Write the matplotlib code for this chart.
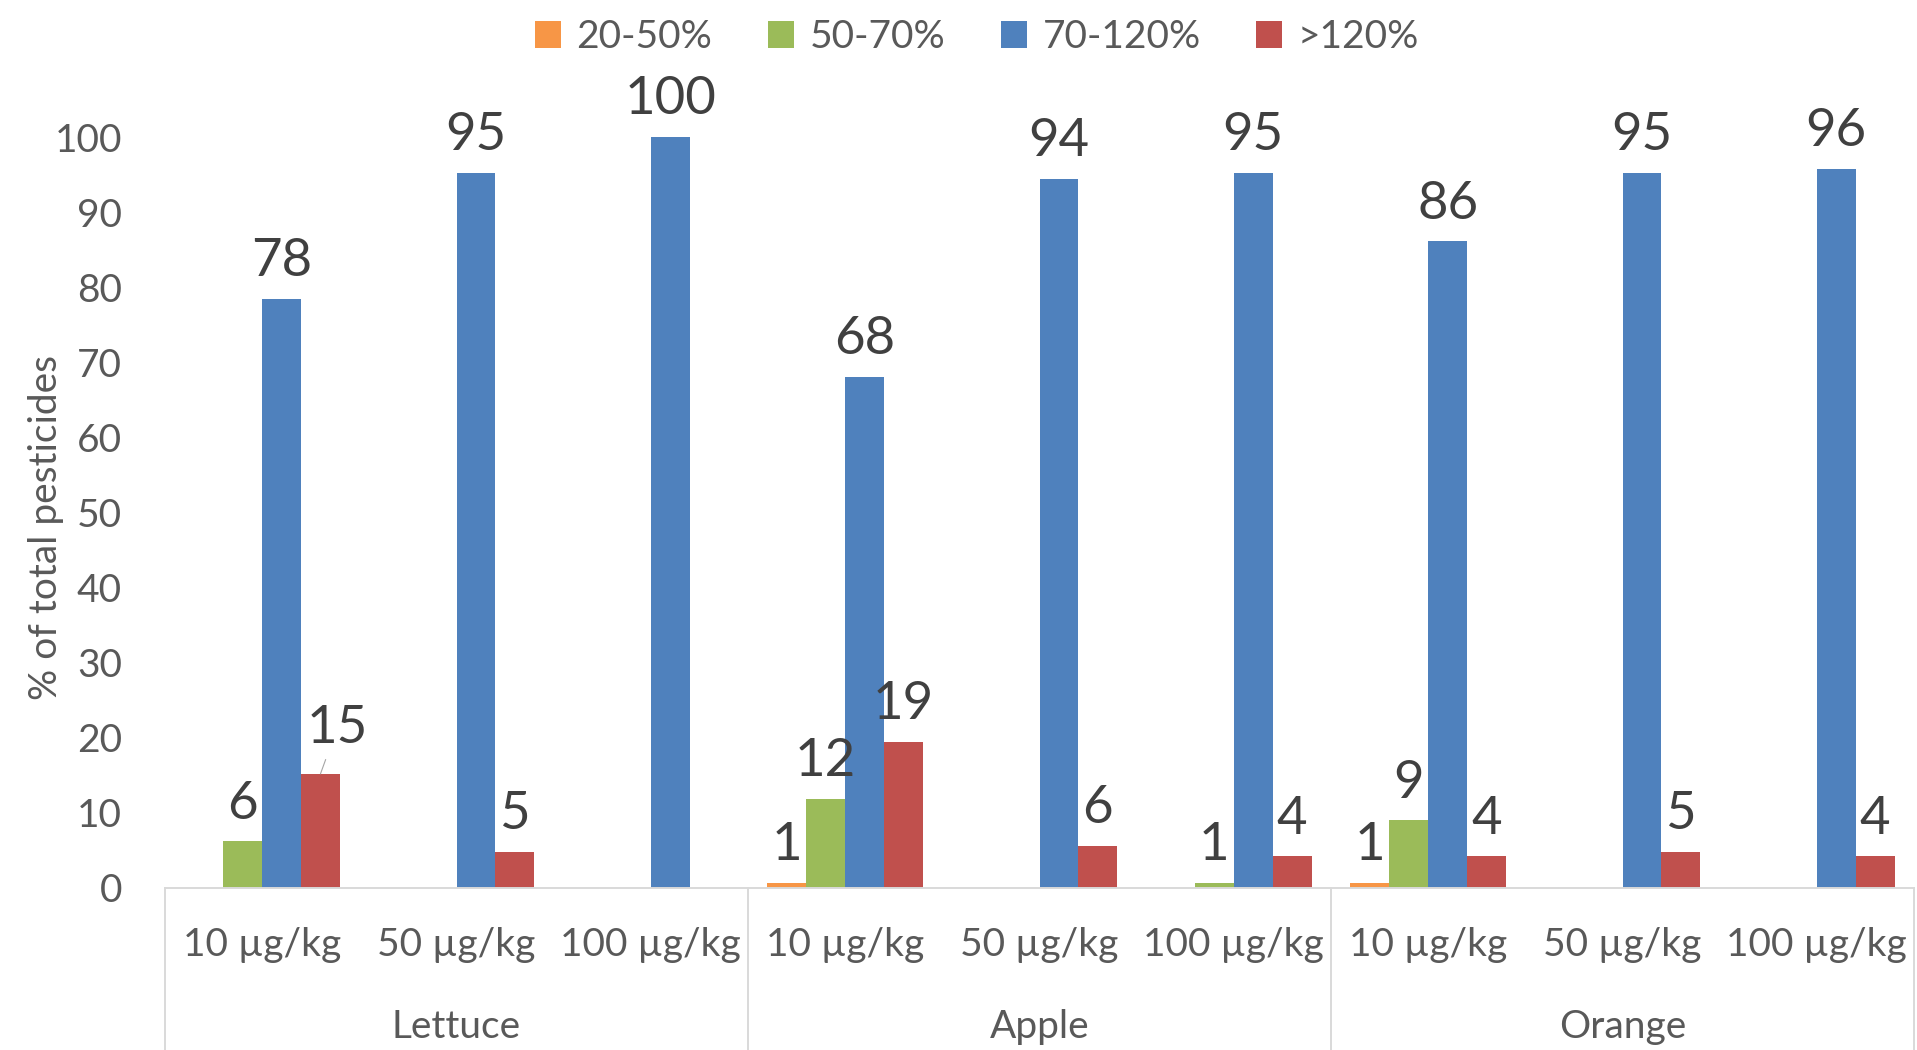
import matplotlib
matplotlib.use("Agg")
import matplotlib.pyplot as plt
from matplotlib.patches import Patch
import numpy as np

plt.rcParams['font.family'] = ['Lato', 'DejaVu Sans']

# --- data -------------------------------------------------------------
groups = ["Lettuce", "Apple", "Orange"]
levels = ["10 µg/kg", "50 µg/kg", "100 µg/kg"]
series_names = ["20-50%", "50-70%", "70-120%", ">120%"]

r20_50 = [0, 0, 0, 0.7, 0, 0, 0.7, 0, 0]
r50_70 = [6.2, 0, 0, 11.8, 0, 0.7, 9.0, 0, 0]
r70_120 = [78.4, 95.2, 100, 68.0, 94.4, 95.2, 86.1, 95.2, 95.8]
r_gt120 = [15.2, 4.8, 0, 19.4, 5.6, 4.2, 4.2, 4.8, 4.2]

yticks = list(range(0, 101, 10))

# --- style ------------------------------------------------------------
colors = ["#F79646", "#9BBB59", "#4F81BD", "#C0504D"]
tick_color = "#595959"
label_color = "#404040"
line_color = "#D9D9D9"
W, H = 1917, 1050

fig = plt.figure(figsize=(W / 100, H / 100), dpi=100)
ax = fig.add_axes([165 / W, 1 - 888 / H, (1914 - 165) / W, (888 - 137) / H])

series = [r20_50, r50_70, r70_120, r_gt120]
n_cat = len(groups) * len(levels)
x = np.arange(n_cat)
bw = 0.2
offsets = [-0.3, -0.1, 0.1, 0.3]

for vals, off, col, name in zip(series, offsets, colors, series_names):
    ax.bar(x + off, vals, width=bw, color=col, label=name, zorder=2)
    for xi, v in zip(x + off, vals):
        if v <= 0:
            continue
        if name == ">120%" and xi < 1:
            # label nudged aside with a leader line
            ax.annotate(f"{v:.0f}", xy=(xi, v), xytext=(12, 33),
                        textcoords="offset points", ha="center", va="center",
                        fontsize=38, color=label_color, annotation_clip=False,
                        arrowprops=dict(arrowstyle="-", color="#A6A6A6",
                                        lw=0.8, shrinkA=4, shrinkB=0))
        else:
            ax.annotate(f"{v:.0f}", xy=(xi, v), xytext=(0, 10),
                        textcoords="offset points", ha="center", va="bottom",
                        fontsize=38, color=label_color, annotation_clip=False)

ax.set_xlim(-0.5, n_cat - 0.5)
ax.set_ylim(0, 100)
ax.set_yticks(yticks)
ax.tick_params(axis="y", length=0, pad=31, labelsize=28, labelcolor=tick_color)
ax.set_xticks([])
for s in ["top", "right", "left"]:
    ax.spines[s].set_visible(False)
ax.spines["bottom"].set_color(line_color)
ax.spines["bottom"].set_linewidth(1.4)

# two-level category axis
trans = ax.get_xaxis_transform()
ax_h = 888 - 137
y_level = -(945 - 888) / ax_h
y_group = -(1027 - 888) / ax_h
y_end = -(H - 888) / ax_h
for gi, g in enumerate(groups):
    for li, lv in enumerate(levels):
        ax.text(gi * 3 + li, y_level, lv, transform=trans, ha="center",
                va="center", fontsize=28, color=tick_color)
    ax.text(gi * 3 + 1, y_group, g, transform=trans, ha="center",
            va="center", fontsize=28, color=tick_color)
for xb in np.arange(-0.5, n_cat, 3):
    ax.plot([xb, xb], [0, y_end], transform=trans, color=line_color,
            lw=1.4, clip_on=False)

fig.text(46 / W, 1 - 527 / H, "% of total pesticides", rotation=90,
         ha="center", va="center", fontsize=28, color=tick_color)

handles = [Patch(facecolor=c, label=n) for c, n in zip(colors, series_names)]
fig.legend(handles=handles, loc="center", bbox_to_anchor=(977 / W, 1 - 37 / H),
           ncol=4, frameon=False, fontsize=28, labelcolor=tick_color,
           handlelength=0.67, handleheight=0.67, handletextpad=0.4,
           columnspacing=1.43, borderaxespad=0)

fig.savefig("out.png", dpi=100)
